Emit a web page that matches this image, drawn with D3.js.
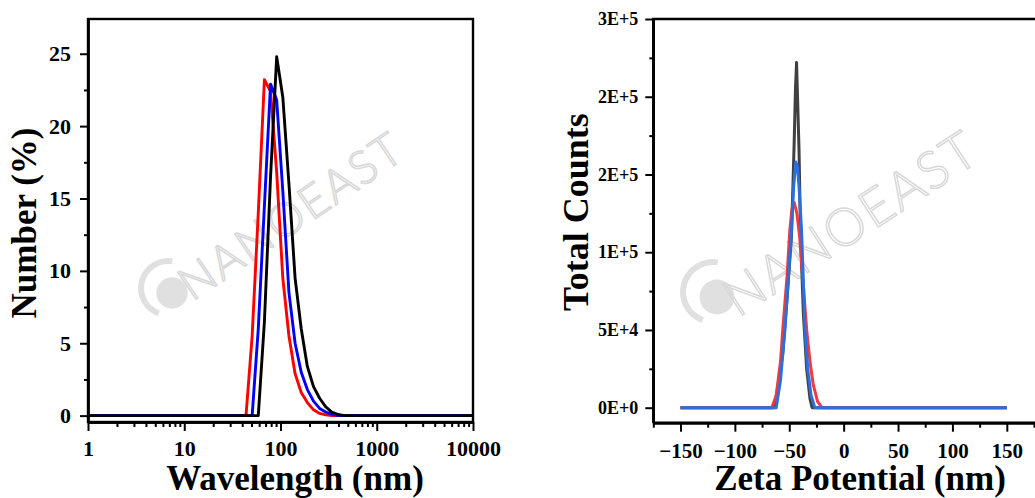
<!DOCTYPE html>
<html>
<head>
<meta charset="utf-8">
<script src="https://cdn.jsdelivr.net/npm/d3@7"></script>
<style>
  body { margin: 0; background: #fff; }
  #graf { width: 1035px; height: 498px; }
  text { font-family: 'Liberation Serif', 'Times New Roman', serif; font-weight: bold; }
</style>
</head>
<body>
<div id="graf"></div>
<script>
// Datos: distribucion de tamano (panel izquierdo)
tamanos  = [1, 37.84, 43.82, 50.75, 58.77, 68.06, 78.82, 91.28, 105.7, 122.4, 141.8, 164.2, 190.1, 220.2, 255.0, 295.3, 342.0, 396.1, 458.7, 10000]
numRojo  = [0, 0, 0, 5.5, 14, 23.2, 22.4, 16.8, 9.5, 5.5, 2.9, 1.6, 0.9, 0.4, 0.15, 0.05, 0, 0, 0, 0]
numAzul  = [0, 0, 0, 0, 6, 14.5, 22.9, 21.8, 15.5, 8.5, 5, 3, 1.8, 1, 0.5, 0.25, 0.1, 0, 0, 0]
numNegro = [0, 0, 0, 0, 0, 6.5, 16.5, 24.8, 22, 16, 9.5, 6, 3.4, 2, 1.2, 0.6, 0.25, 0.08, 0, 0]

ticksTam = [1, 10, 100, 1000, 10000]
ticksNum = [0, 5, 10, 15, 20, 25]

// Datos: potencial zeta (panel derecho)
zetaGrisX = [-150, -64, -60, -56, -52, -48, -45.5, -44.3, -43.3, -41, -39.6, -37, -34, -31, -29, 150]
zetaGrisY = [0, 0, 15000, 35000, 70000, 110000, 170000, 205000, 222000, 165000, 110000, 60000, 25000, 6000, 0, 0]
zetaRojoX = [-150, -66, -62, -58, -56, -52, -49.5, -47.5, -45.5, -43, -40.5, -37, -34, -31, -28, -24, -20, 150]
zetaRojoY = [0, 0, 8000, 30000, 50000, 85000, 114000, 128000, 132000, 125000, 110000, 78000, 50000, 30000, 15000, 4000, 0, 0]
zetaAzulX = [-150, -62, -58, -54, -51, -47.9, -46, -44, -42.5, -41, -38.7, -37, -35.6, -33, -30, -26.5, 150]
zetaAzulY = [0, 0, 18000, 50000, 82000, 114000, 142000, 158000, 155000, 142000, 114000, 80000, 50000, 25000, 8000, 0, 0]

ticksZeta   = [-150, -100, -50, 0, 50, 100, 150]
ticksCuenta = [0, 50000, 100000, 150000, 200000, 250000]
etiqCuenta  = ['0E+0', '5E+4', '1E+5', '2E+5', '2E+5', '3E+5']

fuente = "'Liberation Serif', 'Times New Roman', serif"

svg = d3.select('#graf').append('svg')
  .attr('width', 1035)
  .attr('height', 498)

// Marca de agua
function marcaAgua(cx, cy, r, tx, ty, size, ang) {
  w = svg.append('g').attr('fill', '#e0e0e0')
  w.append('path')
    .attr('d', d3.arc().innerRadius(r - 3).outerRadius(r + 3).startAngle(0.35).endAngle(3.3)())
    .attr('transform', `translate(${cx},${cy}) rotate(180)`)
  w.append('circle')
    .attr('cx', cx + 4).attr('cy', cy + 5).attr('r', r * 0.58)
  w.append('text')
    .attr('transform', `translate(${tx},${ty}) rotate(${ang})`)
    .style('font-family', 'Lato, "DejaVu Sans", sans-serif')
    .style('font-weight', 300)
    .attr('font-size', size)
    .attr('letter-spacing', 2)
    .attr('fill', 'none')
    .attr('stroke', '#d8d8d8')
    .attr('stroke-width', 1.5)
    .text('NANOEAST')
}
marcaAgua(168, 288, 27, 192, 302, 46, -34)
marcaAgua(713, 292, 30, 738, 318, 52, -33)

// ---------- Panel izquierdo ----------
x1 = d3.scaleLog().domain([1, 10000]).range([88, 473])
y1 = d3.scaleLinear().domain([-0.44, 27.4]).range([422, 19])

minLog = []
for (let e = 0; e < 4; e++)
  for (let k = 2; k < 10; k++) minLog.push(k * Math.pow(10, e))

g1 = svg.append('g')

g1.append('g')
  .attr('transform', 'translate(0,422)')
  .call(d3.axisBottom(x1).tickValues(minLog).tickFormat('').tickSize(5).tickSizeOuter(0))
g1.append('g')
  .attr('transform', 'translate(0,422)')
  .call(d3.axisBottom(x1).tickValues(ticksTam).tickFormat(d3.format('')).tickSize(9).tickSizeOuter(0).tickPadding(9))
  .attr('font-size', 22)
g1.append('g')
  .attr('transform', 'translate(88,0)')
  .call(d3.axisLeft(y1).tickValues([2.5, 7.5, 12.5, 17.5, 22.5]).tickFormat('').tickSize(4).tickSizeOuter(0))
g1.append('g')
  .attr('transform', 'translate(88,0)')
  .call(d3.axisLeft(y1).tickValues(ticksNum).tickSize(8).tickSizeOuter(0).tickPadding(9))
  .attr('font-size', 22)

g1.append('rect')
  .attr('x', 88).attr('y', 19)
  .attr('width', 473 - 88).attr('height', 422 - 19)
  .attr('fill', 'none').attr('stroke', '#000').attr('stroke-width', 2.4)

linea1 = d3.line().x(d => x1(d[0])).y(d => y1(d[1]))
;[[numRojo, '#ff0000'], [numAzul, '#0000ff'], [numNegro, '#000000']].forEach(s => {
  g1.append('path')
    .datum(tamanos.map((t, i) => [t, s[0][i]]))
    .attr('d', linea1)
    .attr('fill', 'none')
    .attr('stroke', s[1])
    .attr('stroke-width', 2.9)
    .attr('stroke-linejoin', 'round')
})

g1.append('text')
  .attr('x', 295).attr('y', 490)
  .attr('text-anchor', 'middle')
  .attr('font-size', 35)
  .text('Wavelength (nm)')
g1.append('text')
  .attr('transform', 'translate(36,223) rotate(-90)')
  .attr('text-anchor', 'middle')
  .attr('font-size', 35)
  .text('Number (%)')

// ---------- Panel derecho ----------
x2 = d3.scaleLinear().domain([-175, 175]).range([653.3, 1034])
y2 = d3.scaleLinear().domain([-9650, 250000]).range([422.7, 19])

g2 = svg.append('g')

g2.append('g')
  .attr('transform', 'translate(0,422.7)')
  .call(d3.axisBottom(x2).tickValues([-175, -125, -75, -25, 25, 75, 125, 175]).tickFormat('').tickSize(5).tickSizeOuter(0))
g2.append('g')
  .attr('transform', 'translate(0,422.7)')
  .call(d3.axisBottom(x2).tickValues(ticksZeta).tickSize(9).tickSizeOuter(0).tickPadding(11))
  .attr('font-size', 21)
g2.append('g')
  .attr('transform', 'translate(653.3,0)')
  .call(d3.axisLeft(y2).tickValues([25000, 75000, 125000, 175000, 225000]).tickFormat('').tickSize(4).tickSizeOuter(0))
g2.append('g')
  .attr('transform', 'translate(653.3,0)')
  .call(d3.axisLeft(y2).tickValues(ticksCuenta).tickFormat((d, i) => etiqCuenta[i]).tickSize(8).tickSizeOuter(0).tickPadding(7))
  .attr('font-size', 18)

g2.append('path')
  .attr('d', 'M653.3,422.7 V19 H1036 M653.3,422.7 H1036')
  .attr('fill', 'none').attr('stroke', '#000').attr('stroke-width', 2.4)

linea2 = d3.line().x(d => x2(d[0])).y(d => y2(d[1]))
;[[zetaGrisX, zetaGrisY, '#404040'], [zetaRojoX, zetaRojoY, '#ee3a40'], [zetaAzulX, zetaAzulY, '#2a6fdc']].forEach(s => {
  g2.append('path')
    .datum(s[0].map((v, i) => [v, s[1][i]]))
    .attr('d', linea2)
    .attr('fill', 'none')
    .attr('stroke', s[2])
    .attr('stroke-width', 3)
    .attr('stroke-linejoin', 'round')
})

g2.append('text')
  .attr('x', 860).attr('y', 490)
  .attr('text-anchor', 'middle')
  .attr('font-size', 35)
  .text('Zeta Potential (nm)')
g2.append('text')
  .attr('transform', 'translate(588,212) rotate(-90)')
  .attr('text-anchor', 'middle')
  .attr('font-size', 36)
  .text('Total Counts')

// Grosor de ejes y fuente de las etiquetas
svg.selectAll('.domain').attr('stroke-width', 2.4)
svg.selectAll('.tick line').attr('stroke-width', 2)
svg.selectAll('.tick text')
  .attr('font-family', fuente)
  .attr('font-weight', 'bold')
  .style('font-family', fuente)
  .style('font-weight', 'bold')
</script>
</body>
</html>
